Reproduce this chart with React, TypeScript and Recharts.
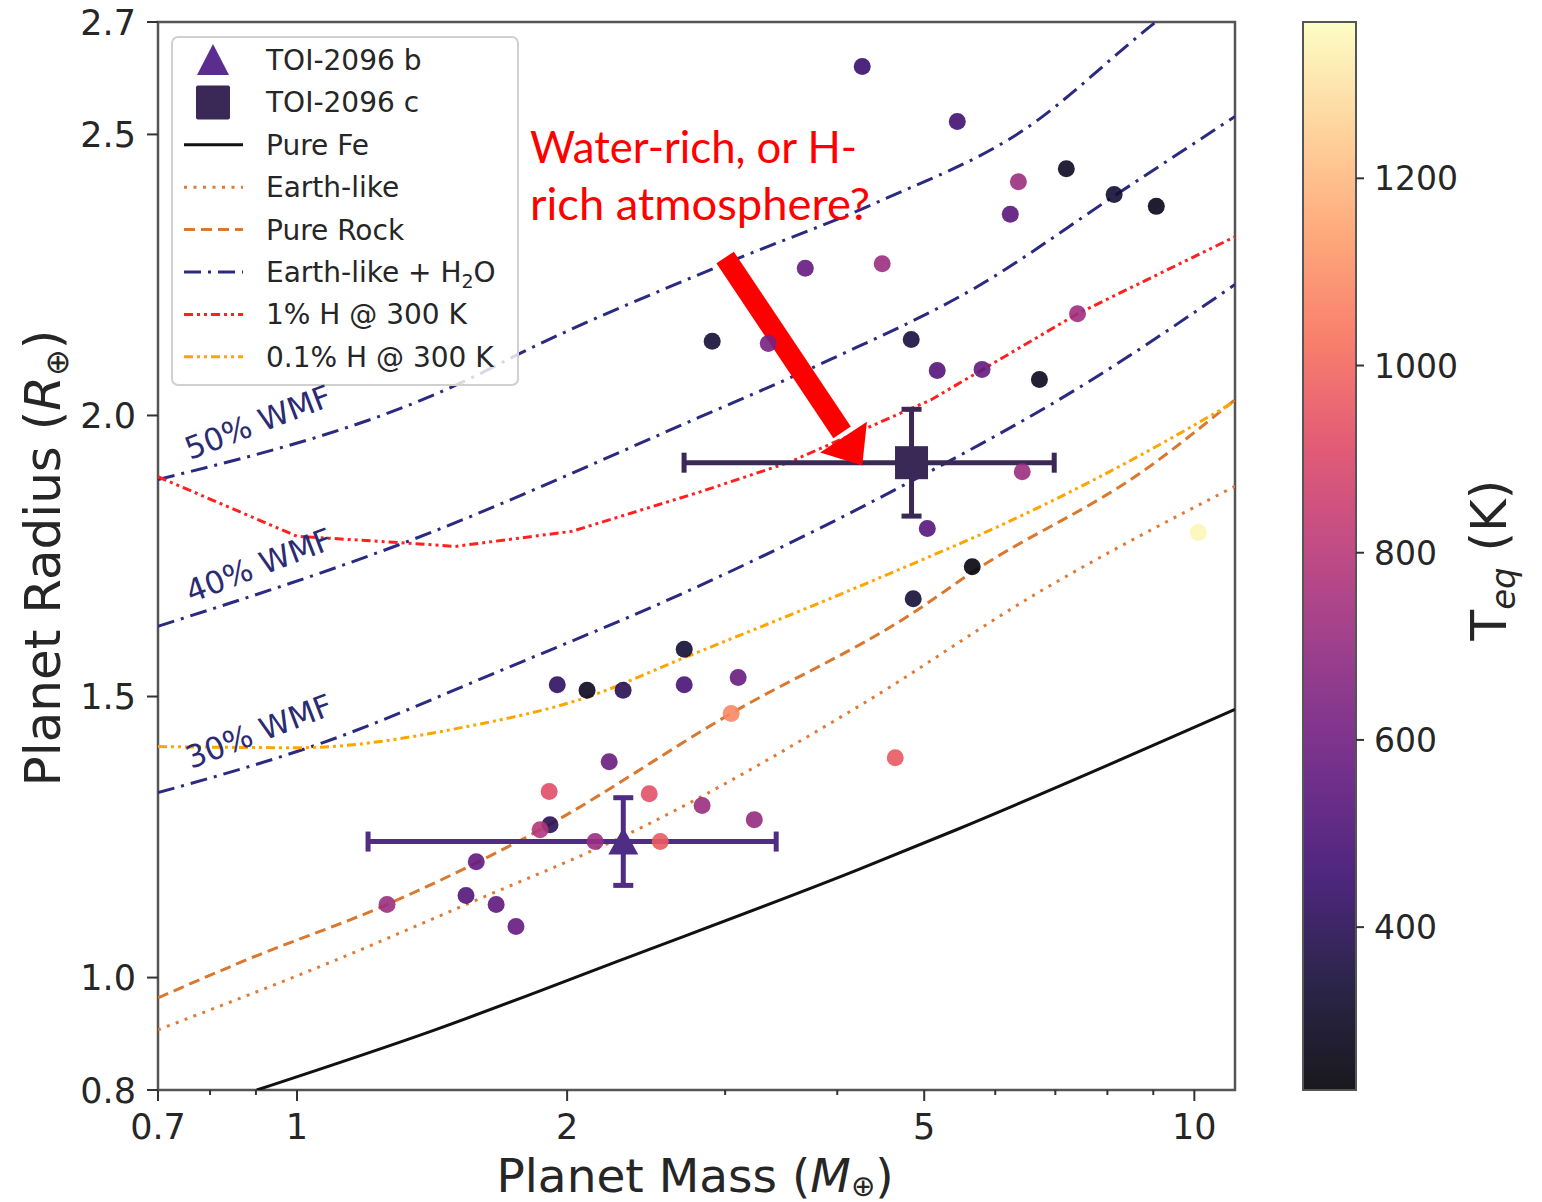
import React from "react";
import {
  ComposedChart,
  Line,
  Scatter,
  XAxis,
  YAxis,
  ErrorBar,
  ReferenceArea,
  ReferenceLine,
  ReferenceDot,
} from "recharts";

const W = 1542;
const H = 1202;

// axis ticks
const X_TICKS = [0.7, 0.8, 0.9, 1, 2, 3, 4, 5, 6, 7, 8, 9, 10];
const X_MAJOR = [0.7, 1, 2, 5, 10];
const Y_TICKS = [0.8, 1.0, 1.5, 2.0, 2.5, 2.7];
const CBAR_TICKS = [400, 600, 800, 1000, 1200];
const TEQ_MIN = 226;
const TEQ_MAX = 1367;

// model curves: mass (M_earth) / radius (R_earth)
const FE_M = [0.902, 1.425, 2.303, 4.221, 5.43, 11.1];
const FE_R = [0.8, 0.907, 1.032, 1.192, 1.263, 1.477];
const EARTH_M = [0.7, 1.108, 1.559, 2.357, 4.221, 6.7, 11.1];
const EARTH_R = [0.907, 1.032, 1.133, 1.258, 1.482, 1.685, 1.874];
const ROCK_M = [0.7, 0.88, 1.26, 1.866, 3.047, 4.861, 5.656, 8.84, 11.1];
const ROCK_R = [0.964, 1.032, 1.13, 1.263, 1.47, 1.649, 1.721, 1.905, 2.028];
const WMF30_M = [0.7, 1.069, 1.697, 2.8, 4.642, 7.695, 11.1];
const WMF30_R = [1.329, 1.418, 1.548, 1.696, 1.868, 2.064, 2.233];
const WMF40_M = [0.7, 1.299, 2.8, 3.948, 5.684, 8.185, 11.1];
const WMF40_R = [1.625, 1.77, 1.996, 2.101, 2.226, 2.393, 2.532];
const WMF50_M = [0.7, 1.551, 1.791, 2.947, 4.456, 6.414, 9.025, 9.4];
const WMF50_R = [1.886, 2.064, 2.114, 2.265, 2.381, 2.505, 2.698, 2.72];
const H1_M = [0.7, 1.0, 1.299, 1.5, 2.026, 2.8, 3.527, 5.09, 7.41, 11.1];
const H1_R = [1.891, 1.785, 1.774, 1.767, 1.794, 1.863, 1.916, 2.028, 2.181, 2.318];
const H01_M = [0.7, 1.0, 1.551, 2.116, 2.673, 4.232, 6.7, 8.84, 11.1];
const H01_R = [1.411, 1.409, 1.447, 1.5, 1.566, 1.696, 1.836, 1.935, 2.025];

// known small planets
const PLANET_M = [
  4.265, 5.443, 6.367, 7.2, 8.14, 9.07, 6.236, 3.685, 4.489, 2.902, 3.351, 4.836,
  5.17, 5.8, 6.72, 7.41, 6.43, 5.04, 5.656, 4.861, 10.1, 2.701, 1.95, 2.105, 2.309,
  2.701, 3.102, 3.047, 4.642, 2.228, 1.91, 2.469, 2.828, 3.233, 1.914, 1.866, 2.149,
  2.54, 1.584, 1.543, 1.667, 1.26, 1.754,
];
const PLANET_R = [
  2.621, 2.523, 2.416, 2.439, 2.393, 2.372, 2.358, 2.262, 2.27, 2.132, 2.128, 2.135,
  2.08, 2.082, 2.064, 2.181, 1.9, 1.799, 1.731, 1.674, 1.792, 1.584, 1.521, 1.511,
  1.511, 1.521, 1.534, 1.47, 1.391, 1.384, 1.331, 1.327, 1.306, 1.281, 1.272, 1.263,
  1.242, 1.242, 1.206, 1.146, 1.13, 1.13, 1.091,
];
const PLANET_TEQ = [
  450, 470, 720, 300, 330, 270, 540, 570, 720, 340, 620, 360, 520, 560, 290, 730, 720,
  530, 250, 340, 1350, 330, 420, 290, 400, 490, 580, 1080, 960, 580, 920, 930, 720,
  700, 400, 780, 720, 960, 560, 520, 550, 720, 570,
];

// TOI-2096 b and c
const TOI_B = { m: 2.31, r: 1.242, mErr: 1.11, rErr: 0.078 };
const TOI_C = { m: 4.84, r: 1.916, mErr: 2.14, rErr: 0.095 };

const zip = (ms: number[], rs: number[]) => ms.map((m, i) => ({ m, r: rs[i] }));

const MAGMA = [
  "#000004", "#140e36", "#3b0f70", "#641a80", "#8c2981", "#b73779",
  "#de4968", "#f7705c", "#fe9f6d", "#fecf92", "#fcfdbf",
];

function hexToRgb(h: string) {
  return [1, 3, 5].map((i) => parseInt(h.slice(i, i + 2), 16));
}

function magma(t: number) {
  const c = Math.max(0, Math.min(1, t)) * 10;
  const i = Math.min(9, Math.floor(c));
  const f = c - i;
  const a = hexToRgb(MAGMA[i]);
  const b = hexToRgb(MAGMA[i + 1]);
  const rgb = a.map((v, k) => Math.round(v + (b[k] - v) * f));
  return `rgb(${rgb[0]},${rgb[1]},${rgb[2]})`;
}

const teqColor = (t: number) => magma((t - TEQ_MIN) / (TEQ_MAX - TEQ_MIN));

const FONT = "DejaVu Sans";
const INK = "#262626";
const NAVY = "#2a2a80";
const WMF_COLOR = "#2b2b73";

function XTick(props: any) {
  const { x, y, payload } = props;
  const major = X_MAJOR.includes(payload.value);
  return (
    <g>
      <line x1={x} x2={x} y1={y} y2={y + (major ? 11 : 5)} stroke="#333" strokeWidth={2} />
      {major && (
        <text x={x} y={y + 49} textAnchor="middle" fontFamily={FONT} fontSize={35} fill={INK}>
          {String(payload.value)}
        </text>
      )}
    </g>
  );
}

function YTick(props: any) {
  const { x, y, payload } = props;
  return (
    <g>
      <line x1={x} x2={x - 11} y1={y} y2={y} stroke="#333" strokeWidth={2} />
      <text x={x - 22} y={y + 12.5} textAnchor="end" fontFamily={FONT} fontSize={35} fill={INK}>
        {Number(payload.value).toFixed(1)}
      </text>
    </g>
  );
}

const dotShape = (p: any) => (
  <circle cx={p.cx} cy={p.cy} r={8.5} fill={teqColor(p.payload.teq)} fillOpacity={0.9} />
);

const triShape = (p: any) => (
  <polygon
    points={`${p.cx},${p.cy - 14} ${p.cx - 15},${p.cy + 13} ${p.cx + 15},${p.cy + 13}`}
    fill="#4f2d85"
  />
);

const squareShape = (p: any) => (
  <rect x={p.cx - 16.5} y={p.cy - 16.5} width={33} height={33} fill="#3a2856" />
);

// arrow head drawn at the tip (pointing down-right)
const arrowHead = (p: any) => {
  const ux = 0.55;
  const uy = 0.835;
  const len = 34;
  const hw = 28;
  const bx = p.cx - ux * len;
  const by = p.cy - uy * len;
  return (
    <polygon
      points={`${p.cx},${p.cy} ${bx + uy * hw},${by - ux * hw} ${bx - uy * hw},${by + ux * hw}`}
      fill="#ff0000"
    />
  );
};

const LEGEND = [
  { label: "TOI-2096 b", kind: "tri" },
  { label: "TOI-2096 c", kind: "sq" },
  { label: "Pure Fe", kind: "fe" },
  { label: "Earth-like", kind: "earth" },
  { label: "Pure Rock", kind: "rock" },
  { label: "Earth-like + H2O", kind: "h2o" },
  { label: "1% H @ 300 K", kind: "h1" },
  { label: "0.1% H @ 300 K", kind: "h01" },
];

const LINE_STYLE: Record<string, { stroke: string; dash?: string; w: number; curve: "monotone" | "linear" }> = {
  fe: { stroke: "#111111", w: 3, curve: "monotone" },
  earth: { stroke: "#e07a35", dash: "3 6.5", w: 3, curve: "monotone" },
  rock: { stroke: "#d9782e", dash: "11 6", w: 3, curve: "monotone" },
  h2o: { stroke: NAVY, dash: "17 7 3 7", w: 3, curve: "monotone" },
  h1: { stroke: "#ff2020", dash: "9 4 3 4 3 4", w: 3, curve: "linear" },
  h01: { stroke: "#ffa500", dash: "9 4 3 4 3 4", w: 3, curve: "monotone" },
};

function LegendBox() {
  return (
    <g fontFamily={FONT} fontSize={28} fill={INK}>
      <rect x={172} y={37} width={346} height={348} rx={6} fill="#ffffff" fillOpacity={0.82} stroke="#d0d0d0" strokeWidth={2} />
      {LEGEND.map((e, i) => {
        const base = 70 + i * 42.4;
        const cy = base - 10;
        let sym: React.ReactNode = null;
        if (e.kind === "tri") {
          sym = <polygon points={`213,${cy - 16} 197,${cy + 15} 229,${cy + 15}`} fill="#5b2d8e" />;
        } else if (e.kind === "sq") {
          sym = <rect x={196} y={cy - 17} width={34} height={34} rx={2} fill="#3a2856" />;
        } else {
          const s = LINE_STYLE[e.kind];
          sym = <line x1={184} x2={243} y1={cy} y2={cy} stroke={s.stroke} strokeWidth={s.w} strokeDasharray={s.dash} />;
        }
        return (
          <g key={e.label}>
            {sym}
            {e.kind === "h2o" ? (
              <text x={266} y={base}>
                Earth-like + H<tspan fontSize={19} dy={6}>2</tspan>
                <tspan dy={-6}>O</tspan>
              </text>
            ) : (
              <text x={266} y={base}>{e.label}</text>
            )}
          </g>
        );
      })}
    </g>
  );
}

function ColorBar() {
  const x0 = 1303;
  const x1 = 1356;
  const y0 = 22;
  const y1 = 1090;
  const ty = (t: number) => y1 - ((t - TEQ_MIN) / (TEQ_MAX - TEQ_MIN)) * (y1 - y0);
  return (
    <g>
      <defs>
        <linearGradient id="magma" x1="0" y1="1" x2="0" y2="0">
          {MAGMA.map((c, i) => (
            <stop key={i} offset={i / 10} stopColor={c} />
          ))}
        </linearGradient>
      </defs>
      <rect x={x0} y={y0} width={x1 - x0} height={y1 - y0} fill="url(#magma)" fillOpacity={0.9} />
      <rect x={x0} y={y0} width={x1 - x0} height={y1 - y0} fill="none" stroke="#555" strokeWidth={2} />
      {CBAR_TICKS.map((t) => (
        <g key={t}>
          <line x1={x1} x2={x1 + 8} y1={ty(t)} y2={ty(t)} stroke="#333" strokeWidth={2} />
          <text x={1374} y={ty(t) + 12} fontFamily={FONT} fontSize={33} fill={INK}>
            {t}
          </text>
        </g>
      ))}
      <text transform="translate(1506,560) rotate(-90)" textAnchor="middle" fontFamily={FONT} fontSize={50} fill={INK}>
        T<tspan fontSize={34} fontStyle="italic" dy={9}>eq</tspan>
        <tspan dy={-9}> (K)</tspan>
      </text>
    </g>
  );
}

export default function App() {
  const planets = PLANET_M.map((m, i) => ({ m, r: PLANET_R[i], teq: PLANET_TEQ[i] }));
  const curves = [
    { key: "fe", data: zip(FE_M, FE_R) },
    { key: "earth", data: zip(EARTH_M, EARTH_R) },
    { key: "rock", data: zip(ROCK_M, ROCK_R) },
    { key: "h2o", data: zip(WMF30_M, WMF30_R) },
    { key: "h2o", data: zip(WMF40_M, WMF40_R) },
    { key: "h2o", data: zip(WMF50_M, WMF50_R) },
    { key: "h1", data: zip(H1_M, H1_R) },
    { key: "h01", data: zip(H01_M, H01_R) },
  ];

  return (
    <div style={{ position: "absolute", left: 0, top: 0, width: W, height: H, background: "#ffffff" }}>
      <ComposedChart width={W} height={H} margin={{ top: 22, right: 307, bottom: 52, left: 58 }}>
        <XAxis
          type="number"
          dataKey="m"
          scale="log"
          domain={[0.7, 11.1]}
          allowDataOverflow
          ticks={X_TICKS}
          interval={0}
          tick={(p: any) => <XTick {...p} />}
          tickLine={false}
          axisLine={false}
          tickSize={0}
          tickMargin={0}
          height={60}
        />
        <YAxis
          type="number"
          dataKey="r"
          domain={[0.8, 2.7]}
          allowDataOverflow
          ticks={Y_TICKS}
          interval={0}
          tick={(p: any) => <YTick {...p} />}
          tickLine={false}
          axisLine={false}
          tickSize={0}
          tickMargin={0}
          width={100}
        />
        {curves.map((c, i) => {
          const s = LINE_STYLE[c.key];
          return (
            <Line
              key={i}
              data={c.data}
              dataKey="r"
              type={s.curve}
              stroke={s.stroke}
              strokeWidth={s.w}
              strokeDasharray={s.dash}
              dot={false}
              activeDot={false}
              isAnimationActive={false}
            />
          );
        })}
        <Scatter data={planets} dataKey="r" shape={dotShape} isAnimationActive={false} />
        <Scatter data={[TOI_B]} dataKey="r" shape={triShape} isAnimationActive={false}>
          <ErrorBar dataKey="mErr" direction="x" width={10} strokeWidth={5} stroke="#4f2d85" isAnimationActive={false} />
          <ErrorBar dataKey="rErr" direction="y" width={10} strokeWidth={5} stroke="#4f2d85" isAnimationActive={false} />
        </Scatter>
        <Scatter data={[TOI_C]} dataKey="r" shape={squareShape} isAnimationActive={false}>
          <ErrorBar dataKey="mErr" direction="x" width={10} strokeWidth={5} stroke="#3a2856" isAnimationActive={false} />
          <ErrorBar dataKey="rErr" direction="y" width={10} strokeWidth={5} stroke="#3a2856" isAnimationActive={false} />
        </Scatter>
        <ReferenceLine
          segment={[
            { x: 3.0, y: 2.281 },
            { x: 4.05, y: 1.97 },
          ]}
          stroke="#ff0000"
          strokeWidth={21}
        />
        <ReferenceDot x={4.265} y={1.911} shape={arrowHead} />
        <ReferenceArea x1={0.7} x2={11.1} y1={0.8} y2={2.7} fill="none" stroke="#555" strokeWidth={2.5} />
      </ComposedChart>

      <svg width={W} height={H} style={{ position: "absolute", left: 0, top: 0, pointerEvents: "none" }}>
        <LegendBox />
        <g fontFamily={FONT} fontSize={31} fill={WMF_COLOR}>
          <text transform="translate(190,460) rotate(-21)">50% WMF</text>
          <text transform="translate(191,603) rotate(-21)">40% WMF</text>
          <text transform="translate(191,769) rotate(-21)">30% WMF</text>
        </g>
        <g fontFamily="Lato" fontSize={44} fill="#ff0000">
          <text x={530} y={163} textLength={327} lengthAdjust="spacingAndGlyphs">
            Water-rich, or H-
          </text>
          <text x={530} y={220} textLength={340} lengthAdjust="spacingAndGlyphs">
            rich atmosphere?
          </text>
        </g>
        <text x={695} y={1192} textAnchor="middle" fontFamily={FONT} fontSize={47} fill={INK}>
          Planet Mass (<tspan fontStyle="italic">M</tspan>
          <tspan fontSize={29} dy={4}>⊕</tspan>
          <tspan dy={-4}>)</tspan>
        </text>
        <text transform="translate(60,558) rotate(-90)" textAnchor="middle" fontFamily={FONT} fontSize={50} fill={INK}>
          Planet Radius (<tspan fontStyle="italic">R</tspan>
          <tspan fontSize={32} dy={8}>⊕</tspan>
          <tspan dy={-8}>)</tspan>
        </text>
        <ColorBar />
      </svg>
    </div>
  );
}
